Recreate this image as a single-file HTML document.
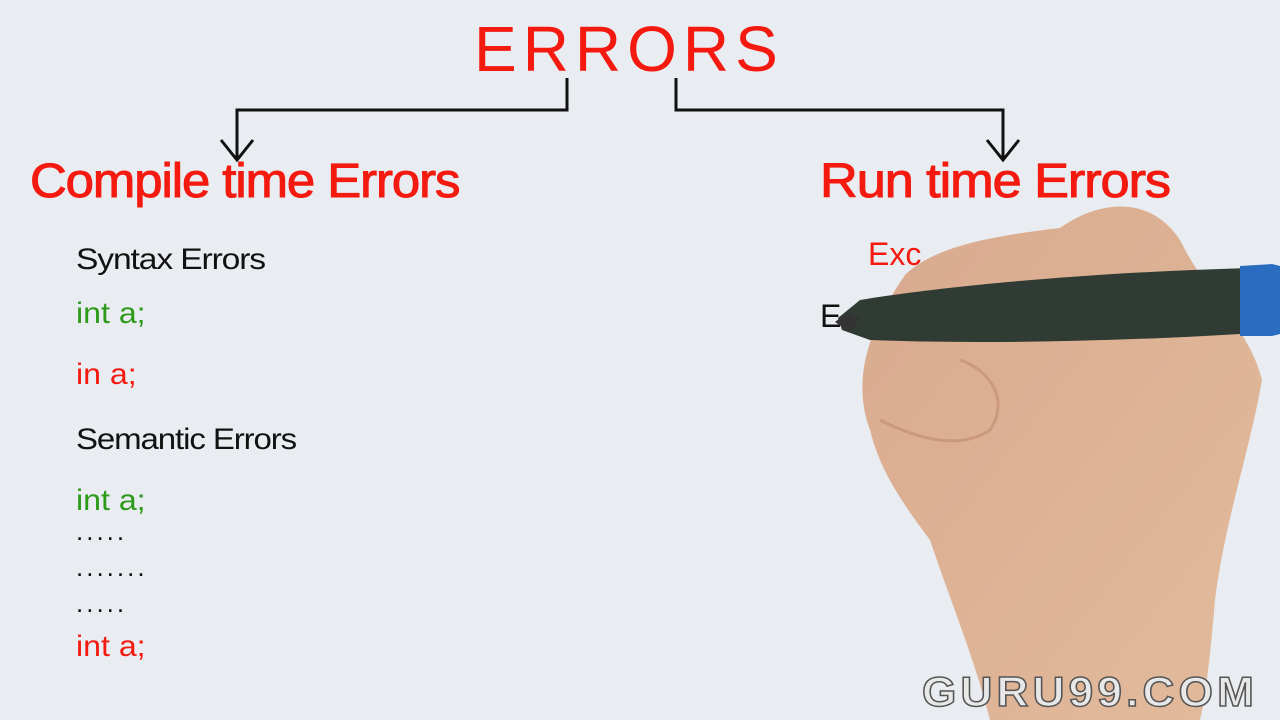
<!DOCTYPE html>
<html><head><meta charset="utf-8"><style>
html,body{margin:0;padding:0}
body{width:1280px;height:720px;background:#e9edf1;position:relative;overflow:hidden;font-family:"Liberation Sans",sans-serif}
.t{position:absolute;white-space:nowrap;transform-origin:left top}
.red{color:#f51a10}
.grn{color:#2e9a1a}
.blk{color:#111}
</style></head><body>
<svg width="1280" height="720" style="position:absolute;left:0;top:0">
<g stroke="#111" stroke-width="3" fill="none">
<polyline points="567,78 567,110 237,110 237,158"/>
<polyline points="221,140 237,160 253,140"/>
<polyline points="676,78 676,110 1003,110 1003,158"/>
<polyline points="987,140 1003,160 1019,140"/>
</g>
</svg>
<div class="t red" style="left:474px;top:12px;font-size:64px;letter-spacing:6px">ERRORS</div>
<div class="t red" style="left:30px;top:154px;font-size:48px;letter-spacing:-1px;transform:scaleX(1.06);-webkit-text-stroke:1px #f51a10">Compile time Errors</div>
<div class="t red" style="left:820px;top:154px;font-size:48px;letter-spacing:-1px;transform:scaleX(1.09);-webkit-text-stroke:1px #f51a10">Run time Errors</div>
<div class="t red" style="left:868px;top:236px;font-size:32px">Exc</div>
<div class="t blk" style="left:820px;top:298px;font-size:32px">E</div>
<div class="t blk" style="left:76px;top:243px;font-size:30px;letter-spacing:-1px;transform:scaleX(1.12)">Syntax Errors</div>
<div class="t grn" style="left:76px;top:297px;font-size:30px;transform:scaleX(1.07)">int a;</div>
<div class="t red" style="left:76px;top:358px;font-size:30px;transform:scaleX(1.07)">in a;</div>
<div class="t blk" style="left:76px;top:423px;font-size:30px;letter-spacing:-1px;transform:scaleX(1.1)">Semantic Errors</div>
<div class="t grn" style="left:76px;top:484px;font-size:30px;transform:scaleX(1.07)">int a;</div>
<div class="t blk" style="left:76px;top:516px;font-size:26px;letter-spacing:3px">.....</div>
<div class="t blk" style="left:76px;top:552px;font-size:26px;letter-spacing:3px">.......</div>
<div class="t blk" style="left:76px;top:588px;font-size:26px;letter-spacing:3px">.....</div>
<div class="t red" style="left:76px;top:630px;font-size:30px;transform:scaleX(1.07)">int a;</div>
<svg width="1280" height="720" style="position:absolute;left:0;top:0">
<defs><linearGradient id="sk" x1="0" y1="0" x2="1" y2="1"><stop offset="0" stop-color="#d9a98e"/><stop offset="1" stop-color="#e2bb9c"/></linearGradient></defs>
<path d="M905,275 C935,245 1000,235 1060,228 C1100,200 1150,195 1180,240 C1210,300 1250,330 1262,380 C1250,450 1225,520 1215,600 C1210,660 1205,700 1200,720 L990,720 C975,660 950,600 930,540 C900,500 880,470 870,430 C855,390 860,340 905,275 Z" fill="url(#sk)"/>
<path d="M880,420 C920,440 960,450 990,430 C1010,400 990,370 960,360" fill="none" stroke="#c08a72" stroke-width="3" opacity=".6"/>
<path d="M838,318 L860,300 C950,285 1100,272 1250,268 L1272,268 L1272,332 C1150,340 1000,345 870,340 L842,330 Z" fill="#2f3b33"/>
<path d="M1240,266 L1272,264 L1280,266 L1280,334 L1272,336 L1240,336 Z" fill="#2a6cc0"/>
<path d="M835,322 L848,312 L860,318 L850,332 Z" fill="#333"/>
</svg>
<div class="t" style="left:922px;top:668px;font-size:42px;letter-spacing:4px;color:#e8e8e8;-webkit-text-stroke:1.5px #555;font-weight:bold;transform:scaleX(1.05)">GURU99.COM</div>
</body></html>
